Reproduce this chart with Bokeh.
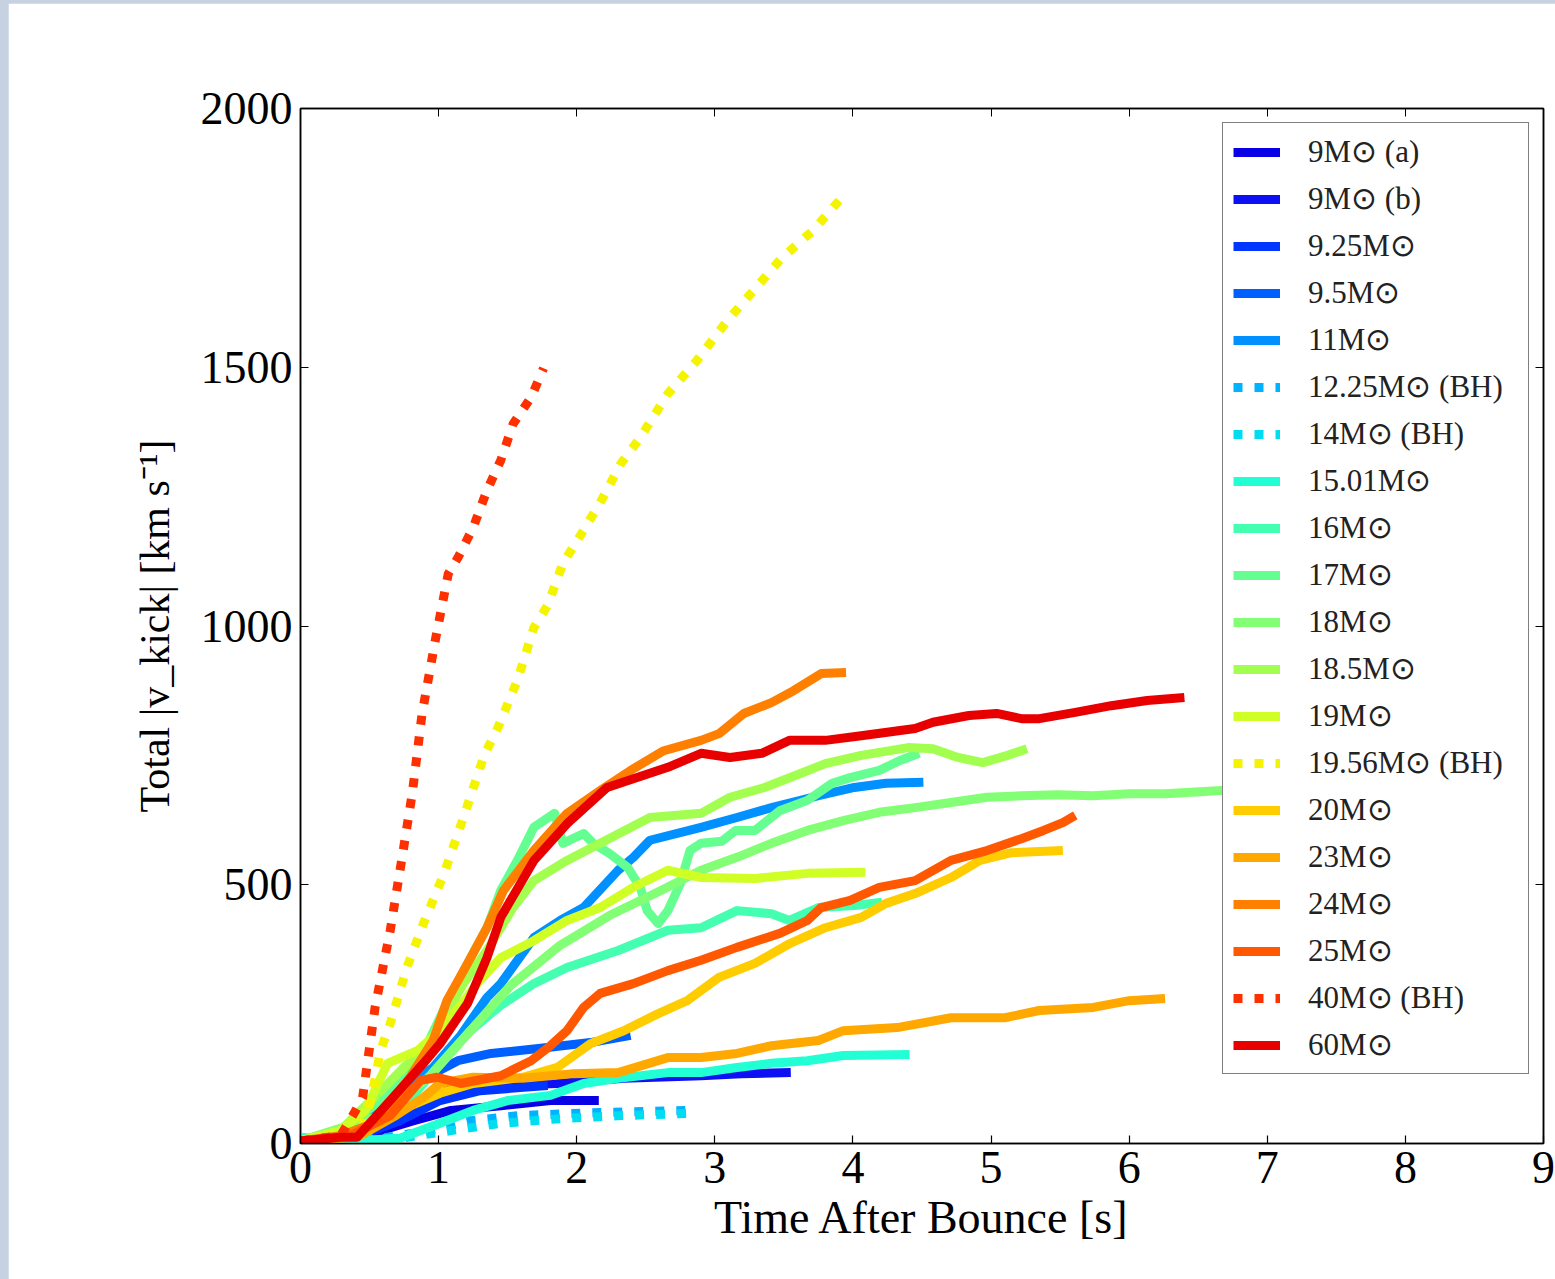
from bokeh.plotting import figure
from bokeh.models import Range1d, FixedTicker, LinearAxis, Legend, LegendItem
from bokeh.embed import file_html
from bokeh.resources import INLINE

# ---------------- data ----------------
x_ticks = [0, 1, 2, 3, 4, 5, 6, 7, 8, 9]
y_ticks = [0, 500, 1000, 1500, 2000]

labels = ["9M⊙ (a)", "9M⊙ (b)", "9.25M⊙", "9.5M⊙", "11M⊙", "12.25M⊙ (BH)",
          "14M⊙ (BH)", "15.01M⊙", "16M⊙", "17M⊙", "18M⊙", "18.5M⊙", "19M⊙",
          "19.56M⊙ (BH)", "20M⊙", "23M⊙", "24M⊙", "25M⊙", "40M⊙ (BH)", "60M⊙"]
colors = ["#0a00e6", "#0c10f2", "#0036ff", "#0060ff", "#0090ff", "#00b2ff",
          "#00dcf0", "#22ffd4", "#44ffb0", "#64ff90", "#82ff74", "#a2ff50",
          "#d0ff26", "#f4f400", "#ffcc00", "#ffa800", "#ff8000", "#ff5800",
          "#ff3000", "#e80000"]
dotted = [False, False, False, False, False, True, True, False, False, False,
          False, False, False, True, False, False, False, False, True, False]

t_9a = [0, 0.29, 0.58, 0.82, 1.09, 1.45, 1.81, 2.16]
v_9a = [5, 5, 25, 44, 64, 73, 83, 83]

t_9b = [0, 0.36, 0.65, 0.94, 1.09, 1.45, 1.86, 2.34, 2.90, 3.19, 3.55]
v_9b = [5, 15, 44, 83, 106, 112, 116, 126, 131, 135, 137]

t_925 = [0, 0.43, 0.72, 1.01, 1.30, 1.59, 1.79]
v_925 = [5, 15, 44, 83, 102, 108, 112]

t_95 = [0, 0.36, 0.54, 0.72, 0.96, 1.14, 1.38, 1.74, 2.10, 2.39]
v_95 = [5, 25, 64, 102, 135, 160, 174, 184, 195, 209]

t_11 = [0, 0.36, 0.63, 0.96, 1.16, 1.35, 1.45, 1.69, 1.88, 2.05, 2.30, 2.41,
        2.53, 2.90, 3.16, 3.41, 3.75, 4.01, 4.24, 4.51]
v_11 = [5, 25, 89, 147, 209, 282, 309, 398, 431, 456, 528, 553,
        586, 611, 630, 649, 672, 688, 696, 698]

t_1225 = [0, 0.58, 0.94, 1.23, 1.59, 2.17, 2.82]
v_1225 = [5, 10, 25, 44, 54, 60, 64]

t_14 = [0, 0.72, 1.09, 1.45, 1.88, 2.32, 2.82]
v_14 = [5, 10, 25, 39, 48, 54, 58]

t_1501 = [0, 0.36, 0.72, 1.01, 1.25, 1.50, 1.81, 2.05, 2.30, 2.66, 2.90, 3.16,
          3.41, 3.67, 3.93, 4.41]
v_1501 = [12, 5, 10, 39, 64, 83, 93, 116, 126, 137, 137, 147,
          155, 160, 170, 172]

t_16 = [0, 0.43, 0.72, 0.99, 1.23, 1.45, 1.69, 1.93, 2.30, 2.66, 2.90, 3.16,
        3.41, 3.54, 3.75, 4.01, 4.21]
v_16 = [5, 19, 64, 147, 218, 267, 309, 340, 373, 412, 417, 450,
        444, 431, 456, 460, 466]

t_17 = [0, 0.29, 0.58, 0.80, 0.92, 1.06, 1.21, 1.35, 1.45, 1.57, 1.69, 1.84,
        1.90, 2.05, 2.12, 2.24, 2.37, 2.46, 2.51, 2.59, 2.66, 2.75, 2.82, 2.90,
        3.05, 3.15, 3.29, 3.47, 3.67, 3.85, 3.98, 4.19, 4.34, 4.48]
v_17 = [5, 25, 83, 151, 193, 271, 348, 417, 489, 547, 611, 638,
        580, 599, 580, 560, 533, 495, 450, 425, 450, 502, 566, 580,
        584, 605, 605, 643, 663, 696, 707, 721, 740, 754]

t_18 = [0, 0.58, 0.94, 1.23, 1.52, 1.88, 2.24, 2.61, 2.90, 3.16, 3.41, 3.67,
        3.93, 4.19, 4.45, 4.71, 4.97, 5.22, 5.48, 5.74, 6.00, 6.26, 6.67, 7.24]
v_18 = [5, 54, 131, 218, 305, 383, 441, 489, 528, 553, 580, 605,
        624, 640, 649, 659, 669, 672, 674, 672, 676, 676, 682, 686]

t_185 = [0, 0.29, 0.51, 0.69, 0.94, 1.18, 1.35, 1.54, 1.69, 1.93, 2.17, 2.53,
         2.90, 3.11, 3.36, 3.62, 3.80, 4.06, 4.40, 4.58, 4.76, 4.94, 5.12, 5.26]
v_185 = [5, 25, 83, 131, 199, 309, 373, 456, 508, 547, 580, 630,
         638, 669, 688, 715, 734, 750, 765, 763, 746, 736, 750, 763]

t_19 = [0, 0.29, 0.47, 0.63, 0.85, 1.01, 1.16, 1.28, 1.45, 1.69, 1.93, 2.17,
        2.41, 2.66, 2.90, 3.29, 3.67, 4.09]
v_19 = [5, 25, 64, 155, 180, 218, 267, 309, 359, 392, 431, 456,
        495, 528, 514, 512, 522, 524]

t_1956 = [0, 0.33, 0.45, 0.51, 0.58, 0.65, 0.77, 0.89, 1.04, 1.18, 1.33, 1.43,
          1.57, 1.69, 1.79, 1.90, 2.05, 2.19, 2.32, 2.46, 2.66, 2.87, 3.09,
          3.28, 3.48, 3.71, 3.90]
v_1956 = [5, 15, 35, 83, 180, 232, 340, 425, 522, 630, 750, 804,
          895, 997, 1040, 1121, 1185, 1248, 1314, 1364, 1449, 1513, 1590,
          1648, 1710, 1764, 1822]

t_20 = [0, 0.40, 0.63, 0.80, 1.01, 1.25, 1.61, 1.86, 2.10, 2.34, 2.59, 2.80,
        3.03, 3.29, 3.54, 3.80, 4.06, 4.24, 4.45, 4.71, 4.92, 5.15, 5.52]
v_20 = [5, 12, 50, 73, 97, 116, 128, 147, 193, 218, 251, 276,
        321, 348, 386, 417, 437, 464, 483, 514, 547, 562, 566]

t_23 = [0, 0.43, 0.69, 0.89, 1.01, 1.25, 1.61, 1.98, 2.30, 2.66, 2.90, 3.16,
        3.41, 3.75, 3.93, 4.32, 4.71, 5.10, 5.35, 5.74, 6.00, 6.26]
v_23 = [5, 15, 54, 89, 116, 128, 126, 135, 137, 166, 166, 174,
        189, 199, 218, 224, 243, 243, 257, 263, 276, 280]

t_24 = [0, 0.29, 0.58, 0.80, 0.96, 1.06, 1.21, 1.35, 1.47, 1.69, 1.93, 2.17,
        2.39, 2.63, 2.90, 3.03, 3.21, 3.41, 3.57, 3.77, 3.95]
v_24 = [5, 15, 44, 131, 199, 276, 348, 417, 489, 566, 638, 682,
        721, 759, 779, 792, 831, 852, 875, 908, 910]

t_25 = [0, 0.36, 0.65, 0.87, 0.99, 1.16, 1.45, 1.67, 1.81, 1.93, 2.05, 2.17,
        2.41, 2.66, 2.90, 3.16, 3.47, 3.67, 3.77, 3.98, 4.19, 4.45, 4.71, 4.97,
        5.22, 5.38, 5.52, 5.61]
v_25 = [5, 15, 54, 122, 128, 116, 131, 160, 189, 218, 263, 290,
        309, 334, 354, 379, 406, 431, 456, 470, 495, 508, 547, 566,
        589, 605, 620, 634]

t_40 = [0, 0.29, 0.40, 0.45, 0.54, 0.65, 0.74, 0.81, 0.88, 0.98, 1.07, 1.14,
        1.25, 1.35, 1.45, 1.54, 1.67, 1.76]
v_40 = [5, 15, 64, 89, 263, 412, 560, 678, 830, 978, 1101, 1132,
        1190, 1262, 1320, 1391, 1442, 1498]

t_60 = [0, 0.29, 0.41, 0.65, 0.89, 1.01, 1.21, 1.35, 1.45, 1.69, 1.93, 2.22,
        2.66, 2.90, 3.11, 3.34, 3.54, 3.80, 4.06, 4.45, 4.58, 4.84, 5.04, 5.22,
        5.35, 5.61, 5.87, 6.13, 6.40]
v_60 = [5, 12, 12, 83, 155, 193, 271, 359, 437, 547, 618, 688,
        727, 754, 746, 754, 779, 779, 788, 802, 814, 827, 831, 821,
        821, 833, 846, 856, 862]

series_t = [t_9a, t_9b, t_925, t_95, t_11, t_1225, t_14, t_1501, t_16, t_17,
            t_18, t_185, t_19, t_1956, t_20, t_23, t_24, t_25, t_40, t_60]
series_v = [v_9a, v_9b, v_925, v_95, v_11, v_1225, v_14, v_1501, v_16, v_17,
            v_18, v_185, v_19, v_1956, v_20, v_23, v_24, v_25, v_40, v_60]

x_label = "Time After Bounce [s]"
y_label = "Total |v_kick| [km s⁻¹]"

# ---------------- figure ----------------
SERIF = "Liberation Serif"
PAD_X, PAD_Y = 8, 3          # page offset of the canvas (light stripe)

p = figure(width=1547, height=1276, output_backend="svg", toolbar_location=None,
           x_range=Range1d(0, 9), y_range=Range1d(0, 2000),
           min_border_left=300 - PAD_X, min_border_right=12,
           min_border_top=105, min_border_bottom=136)
p.background_fill_color = "white"
p.border_fill_color = "white"
p.outline_line_color = "black"
p.outline_line_width = 1.5
p.xgrid.visible = False
p.ygrid.visible = False

for ax, ticks in ((p.xaxis[0], x_ticks), (p.yaxis[0], y_ticks)):
    ax.ticker = FixedTicker(ticks=ticks)
    ax.major_tick_in = 8
    ax.major_tick_out = 0
    ax.minor_tick_line_color = None
    ax.major_tick_line_color = "black"
    ax.major_tick_line_width = 1.2
    ax.axis_line_color = "black"
    ax.axis_line_width = 1.5
    ax.major_label_text_font = SERIF
    ax.major_label_text_font_size = "46px"
    ax.major_label_text_color = "black"
    ax.major_label_standoff = 8
    ax.axis_label_text_font = SERIF
    ax.axis_label_text_font_style = "normal"
    ax.axis_label_text_color = "black"

p.xaxis.axis_label = x_label
p.xaxis.axis_label_text_font_size = "46px"
p.xaxis.axis_label_standoff = 6
p.yaxis.axis_label = y_label
p.yaxis.axis_label_text_font_size = "42px"
p.yaxis.axis_label_standoff = 20

for place, ticks in (("above", x_ticks), ("right", y_ticks)):
    a = LinearAxis(ticker=FixedTicker(ticks=ticks))
    a.major_tick_in = 8
    a.major_tick_out = 0
    a.minor_tick_line_color = None
    a.major_label_text_font_size = "1px"
    a.major_label_text_alpha = 0
    a.major_label_standoff = 0
    a.axis_line_color = "black"
    a.axis_line_width = 1.5
    p.add_layout(a, place)

items = []
for t, v, lab, col, dot in zip(series_t, series_v, labels, colors, dotted):
    if dot:
        r = p.line(t, v, line_color=col, line_width=9, line_dash="9 12",
                   line_cap="butt", line_join="round")
    else:
        r = p.line(t, v, line_color=col, line_width=9, line_cap="butt",
                   line_join="round")
    items.append(LegendItem(label=lab, renderers=[r]))

legend = Legend(items=items, location="top_right")
legend.margin = 14
legend.padding = 10
legend.spacing = 10
legend.glyph_width = 47
legend.glyph_height = 34
legend.label_height = 34
legend.label_width = 210
legend.label_standoff = 28
legend.label_text_font = SERIF
legend.label_text_font_size = "31px"
legend.label_text_color = "#222222"
legend.border_line_color = "black"
legend.border_line_width = 1.5
legend.background_fill_color = "white"
legend.background_fill_alpha = 1.0
p.add_layout(legend)

html = file_html(p, INLINE, title="kick velocities")
html = html.replace("</head>",
                    "<style>html,body{margin:0;background:#c6d2e2;}"
                    "body{padding:%dpx 0 0 %dpx;}</style></head>" % (PAD_Y, PAD_X), 1)
open("out.html", "w").write(html)
